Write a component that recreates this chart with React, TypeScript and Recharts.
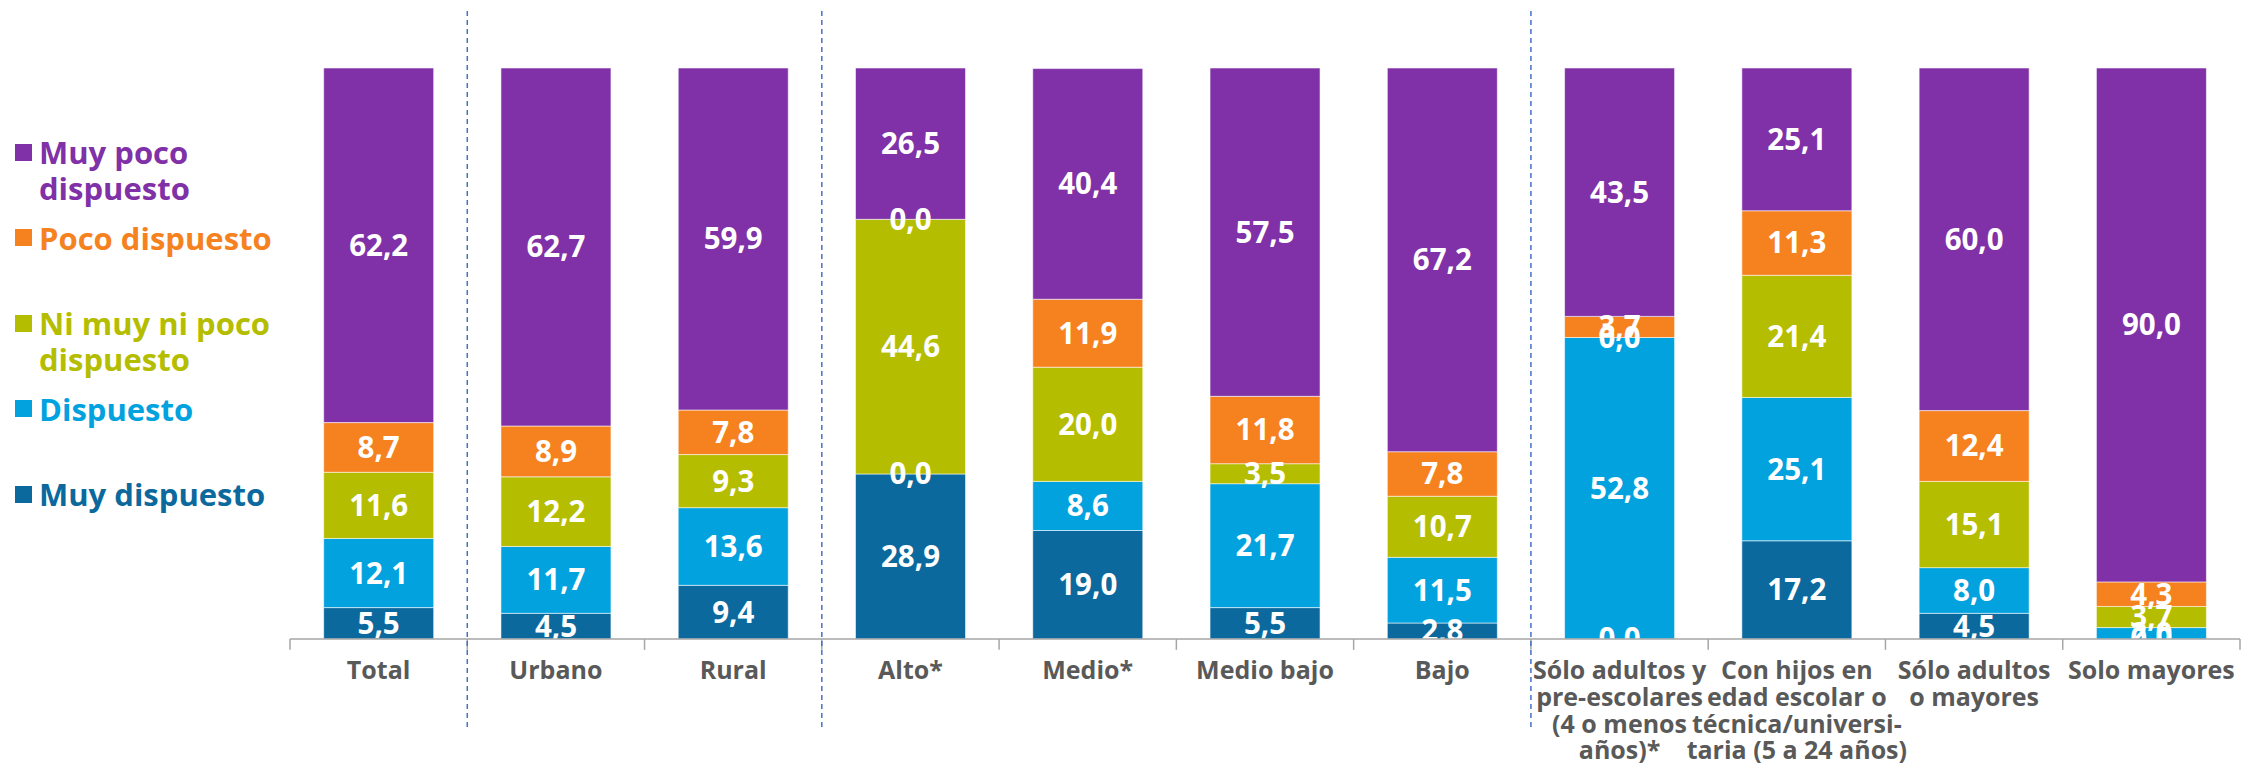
import React from 'react';
import { BarChart, Bar, XAxis, YAxis, ReferenceLine } from 'recharts';

const categories = [
  'Total',
  'Urbano',
  'Rural',
  'Alto*',
  'Medio*',
  'Medio bajo',
  'Bajo',
  'Sólo adultos y pre-escolares (4 o menos años)*',
  'Con hijos en edad escolar o técnica/universitaria (5 a 24 años)',
  'Sólo adultos o mayores',
  'Solo mayores',
];
const categoryLines = [
  ['Total'],
  ['Urbano'],
  ['Rural'],
  ['Alto*'],
  ['Medio*'],
  ['Medio bajo'],
  ['Bajo'],
  ['Sólo adultos y', 'pre-escolares', '(4 o menos', 'años)*'],
  ['Con hijos en', 'edad escolar o', 'técnica/universi-', 'taria  (5 a 24 años)'],
  ['Sólo adultos', 'o mayores'],
  ['Solo mayores'],
];

const muyDispuesto = [5.5, 4.5, 9.4, 28.9, 19.0, 5.5, 2.8, 0.0, 17.2, 4.5, 0.0];
const dispuesto = [12.1, 11.7, 13.6, 0.0, 8.6, 21.7, 11.5, 52.8, 25.1, 8.0, 2.0];
const niMuyNiPoco = [11.6, 12.2, 9.3, 44.6, 20.0, 3.5, 10.7, 0.0, 21.4, 15.1, 3.7];
const pocoDispuesto = [8.7, 8.9, 7.8, 0.0, 11.9, 11.8, 7.8, 3.7, 11.3, 12.4, 4.3];
const muyPocoDispuesto = [62.2, 62.7, 59.9, 26.5, 40.4, 57.5, 67.2, 43.5, 25.1, 60.0, 90.0];

const seriesKeys = ['muyDispuesto', 'dispuesto', 'niMuyNiPoco', 'pocoDispuesto', 'muyPocoDispuesto'];
const seriesNames = ['Muy dispuesto', 'Dispuesto', 'Ni muy ni poco dispuesto', 'Poco dispuesto', 'Muy poco dispuesto'];
const seriesColors = ['#0B699D', '#02A2DF', '#B5BD00', '#F6821F', '#8031A7'];
const legendLines = [
  ['Muy poco', 'dispuesto'],
  ['Poco dispuesto'],
  ['Ni muy ni poco', 'dispuesto'],
  ['Dispuesto'],
  ['Muy dispuesto'],
];
const legendColors = ['#8031A7', '#F6821F', '#B5BD00', '#02A2DF', '#0B699D'];

// group separators sit at the start of these categories
const separatorCategories = ['Urbano', 'Alto*', 'Sólo adultos y pre-escolares (4 o menos años)*'];

const data = categories.map((name, i) => ({
  name,
  muyDispuesto: muyDispuesto[i],
  dispuesto: dispuesto[i],
  niMuyNiPoco: niMuyNiPoco[i],
  pocoDispuesto: pocoDispuesto[i],
  muyPocoDispuesto: muyPocoDispuesto[i],
}));

const FONT = "'Open Sans', sans-serif";
const AXIS_GREY = '#A6A6A6';

const fmt = (v: any) => (typeof v === 'number' ? v.toFixed(1).replace('.', ',') : String(v));

const CategoryTick = (props: any) => {
  const { x, y, payload } = props;
  const idx = categories.indexOf(payload.value);
  const lines = idx >= 0 ? categoryLines[idx] : [String(payload.value)];
  return (
    <g transform={`translate(${x},${y})`}>
      <text textAnchor="middle" fill="#595959" fontFamily={FONT} fontSize={25} fontWeight={700}>
        {lines.map((l, i) => (
          <tspan key={i} x={0} y={40 + i * 26.8}>
            {l}
          </tspan>
        ))}
      </text>
    </g>
  );
};

// value label drawn as the shape of a transparent overlay bar, so labels sit above every segment
// and are clipped to the plot area like the original
const makeLabelShape = (key: string) => (props: any) => {
  const { x, y, width, height, payload } = props;
  if (payload == null || x == null) return <g />;
  return (
    <text
      x={x + width / 2}
      y={y + height / 2}
      dy="0.355em"
      textAnchor="middle"
      fill="#ffffff"
      fontFamily={FONT}
      fontSize={29.5}
      fontWeight={700}
    >
      {fmt(payload[key])}
    </text>
  );
};

export default function App() {
  return (
    <div style={{ position: 'absolute', left: 0, top: 0, width: 2244, height: 769, background: '#fff' }}>
      <BarChart
        width={2244}
        height={769}
        data={data}
        margin={{ top: 68, right: 4, left: 290, bottom: 10 }}
        barCategoryGap="19%"
      >
        <XAxis
          dataKey="name"
          type="category"
          height={120}
          interval={0}
          axisLine={{ stroke: AXIS_GREY, strokeWidth: 1.5 }}
          tickLine={false}
          tickSize={0}
          tickMargin={0}
          tick={<CategoryTick />}
        />
        <XAxis xAxisId="labels" dataKey="name" type="category" hide />
        <YAxis hide domain={[0, 100]} allowDataOverflow />
        {seriesKeys.map((k, i) => (
          <Bar
            key={k}
            dataKey={k}
            name={seriesNames[i]}
            stackId="a"
            fill={seriesColors[i]}
            stroke="#ffffff"
            strokeOpacity={0.55}
            strokeWidth={1}
            isAnimationActive={false}
          />
        ))}
        {seriesKeys.map((k) => (
          <Bar
            key={'lbl-' + k}
            xAxisId="labels"
            dataKey={k}
            stackId="labels"
            fill="none"
            legendType="none"
            minPointSize={(v: number) => (v === 0 ? 0.2 : 0)}
            shape={makeLabelShape(k)}
            isAnimationActive={false}
          />
        ))}
        {categories.map((c) => (
          <ReferenceLine
            key={'tick-' + c}
            ifOverflow="visible"
            position="start"
            segment={[
              { x: c, y: 0 },
              { x: c, y: -1.9 },
            ]}
            stroke={AXIS_GREY}
            strokeWidth={1.5}
          />
        ))}
        <ReferenceLine
          ifOverflow="visible"
          position="end"
          segment={[
            { x: categories[categories.length - 1], y: 0 },
            { x: categories[categories.length - 1], y: -1.9 },
          ]}
          stroke={AXIS_GREY}
          strokeWidth={1.5}
        />
        {separatorCategories.map((c) => (
          <ReferenceLine
            key={'sep-' + c}
            ifOverflow="visible"
            position="start"
            segment={[
              { x: c, y: -15.4 },
              { x: c, y: 110.3 },
            ]}
            stroke="#4472C4"
            strokeWidth={1.5}
            strokeDasharray="5 4"
          />
        ))}
      </BarChart>
      <div style={{ position: 'absolute', left: 15, top: 134, fontFamily: FONT, fontWeight: 700, fontSize: 31 }}>
        {legendLines.map((lines, i) => (
          <div key={i} style={{ height: 85.5, display: 'flex', alignItems: 'flex-start', color: legendColors[i] }}>
            <div style={{ width: 17, height: 17, marginTop: 9.5, background: legendColors[i], flex: 'none' }} />
            <div style={{ marginLeft: 7, lineHeight: '36px', whiteSpace: 'nowrap' }}>
              {lines.map((l, j) => (
                <div key={j}>{l}</div>
              ))}
            </div>
          </div>
        ))}
      </div>
    </div>
  );
}
